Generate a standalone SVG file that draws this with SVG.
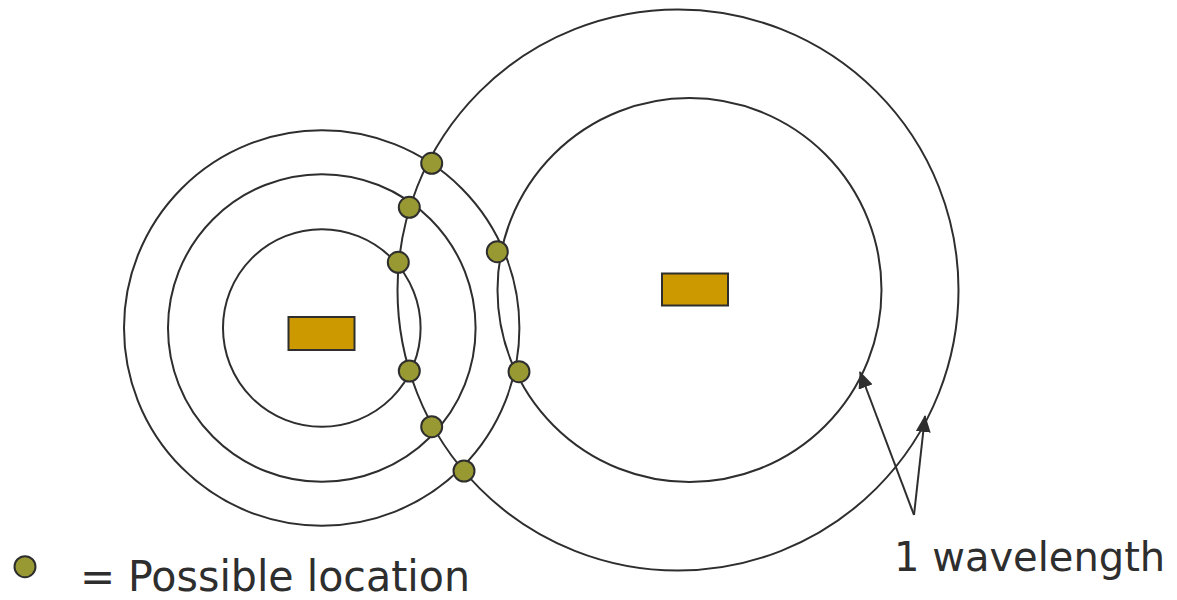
<svg xmlns="http://www.w3.org/2000/svg" width="1177" height="600" viewBox="0 0 1177 600">
  <style>
    .ring { fill: none; stroke: #2e2e2e; stroke-width: 2; }
    .src { fill: #cc9900; stroke: #2e2e2e; stroke-width: 2; }
    .spot { fill: #999933; stroke: #2e2e2e; stroke-width: 2; }
    .lead { fill: none; stroke: #2e2e2e; stroke-width: 2; }
    .label { font-family: "DejaVu Sans", Verdana, sans-serif; font-size: 42px; fill: #2e2e2e; }
  </style>
  <defs>
    <marker id="head" markerUnits="userSpaceOnUse" markerWidth="17" markerHeight="15" refX="16" refY="7.5" orient="auto">
      <path d="M0,0 L17,7.5 L0,15 Z" fill="#2e2e2e"/>
    </marker>
  </defs>

  <rect width="1177" height="600" fill="#ffffff"/>

  <!-- left transmitter with its three wavefronts -->
  <g id="left-source">
    <circle class="ring" cx="321.7" cy="328" r="197.7"/>
    <circle class="ring" cx="321.8" cy="328" r="153.8"/>
    <circle class="ring" cx="321.8" cy="328" r="98.8"/>
    <rect class="src" x="288.5" y="317" width="66" height="33"/>
  </g>

  <!-- right transmitter with its two wavefronts -->
  <g id="right-source">
    <circle class="ring" cx="678" cy="290" r="280.5"/>
    <circle class="ring" cx="689.5" cy="290" r="192"/>
    <rect class="src" x="662" y="273.5" width="66" height="32"/>
  </g>

  <!-- intersections of the wavefronts -->
  <g id="locations">
    <circle class="spot" cx="431.7" cy="163.3" r="10.5"/>
    <circle class="spot" cx="409.3" cy="207.3" r="10.5"/>
    <circle class="spot" cx="398.3" cy="262.3" r="10.5"/>
    <circle class="spot" cx="497.3" cy="251.7" r="10.5"/>
    <circle class="spot" cx="409.3" cy="371" r="10.5"/>
    <circle class="spot" cx="519" cy="371.7" r="10.5"/>
    <circle class="spot" cx="431.7" cy="426.7" r="10.5"/>
    <circle class="spot" cx="464" cy="471" r="10.5"/>
  </g>

  <!-- pointers to the two wavefronts -->
  <g id="connectors">
    <line class="lead" x1="914" y1="515" x2="860" y2="372" marker-end="url(#head)"/>
    <line class="lead" x1="914" y1="515" x2="925" y2="416" marker-end="url(#head)"/>
  </g>

  <g id="wavelength-label">
    <text class="label" x="894" y="571" style="font-size:40px">1 wavelength</text>
  </g>

  <g id="legend">
    <circle class="spot" cx="25" cy="566.7" r="10.5"/>
    <text class="label" x="80" y="591">=</text>
    <text class="label" x="128" y="591" textLength="342" lengthAdjust="spacingAndGlyphs">Possible location</text>
  </g>
</svg>
